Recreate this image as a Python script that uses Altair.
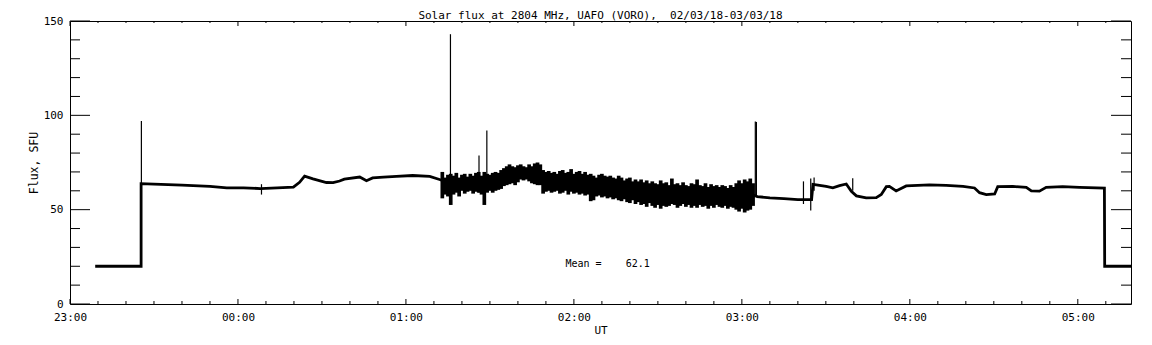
import altair as alt
import pandas as pd

# ---------------- data ----------------
TITLE = "Solar flux at 2804 MHz, UAFO (VORO),\u00a0\u00a002/03/18-03/03/18"
X_TITLE = "UT"
Y_TITLE = "Flux, SFU"
MEAN_TEXT = "Mean =\u00a0\u00a0\u00a0\u00a062.1"

# time axis in minutes after 23:00 UT
HOUR_LABELS = ["23:00", "00:00", "01:00", "02:00", "03:00", "04:00", "05:00"]
X_MAJOR = [0, 60, 120, 180, 240, 300, 360]
X_MINOR = [10, 20, 30, 40, 50, 70, 80, 90, 100, 110, 130, 140, 150, 160, 170,
           190, 200, 210, 220, 230, 250, 260, 270, 280, 290, 310, 320, 330,
           340, 350, 370]
X_MAX = 379
Y_MAJOR = [0, 50, 100, 150]
Y_MINOR = [10, 20, 30, 40, 60, 70, 80, 90, 110, 120, 130, 140]

# trend line of the flux (minutes after 23:00, SFU)
LINE_T = [9, 25.4, 25.4, 30, 40, 50, 56, 62, 68, 74, 79.8, 82, 83.8, 86.8, 91.6,
          94, 96.3, 98, 103.5, 105.9, 108.1, 112, 116.6, 122.4, 128.5, 132,
          136, 140, 146, 150, 156, 160, 164, 168, 172, 178, 185, 190, 195, 200,
          205, 210, 215, 220, 225, 230, 235, 240, 244.5,
          245.5, 250, 255, 260, 264.9, 265.4, 266.6, 270.1, 272.5, 274.9, 277.3,
          279.1, 280.9, 284.4, 288, 289.8, 291.6, 292.7, 295.1, 298.7, 307, 313,
          319, 323.1, 324.9, 327.3, 330.3, 331.4, 336.8, 341.6, 343.4, 346.3,
          348.7, 354.6, 360.6, 369.5, 369.6, 379]
LINE_V = [20, 20, 63.8, 63.5, 63, 62.3, 61.5, 61.6, 61.2, 61.5, 61.9, 64.5, 67.8,
          66.3, 64.4, 64.3, 65.2, 66.2, 67.3, 65.3, 66.8, 67.2, 67.6, 68.1, 67.6, 66,
          64, 64.5, 64.5, 65, 67.5, 69, 69.5, 68.5, 65, 65, 64, 62.5, 62, 61,
          59.5, 58.5, 58, 57.5, 57.5, 57, 56.5, 56.5, 57.5,
          56.9, 56.3, 55.8, 55.3, 55.3, 63.4, 63.2, 62.3, 61.6, 62.7, 63.6,
          59.7, 57.3, 56.3, 56.4, 58, 62.2, 62.3, 59.9, 62.6, 63.1, 62.9,
          62.3, 61.5, 59, 58, 58.3, 62.2, 62.3, 61.8, 60, 59.8,
          61.8, 62.2, 61.8, 61.4, 20, 20]

# noisy interval 01:13-03:04: low / high envelope per minute
NOISE_T = list(range(133, 245))
NOISE_HI = [70, 67, 68.5, 69, 68, 69.5, 67, 68.5, 69, 67.5,
            69, 68, 69.5, 70, 68, 70, 69, 68.5, 69.5, 70,
            69.5, 71, 72, 73, 74, 73, 72.5, 73.5, 74, 73,
            72.5, 74, 73, 74.5, 75, 74, 71, 70, 70.5, 69.5,
            70, 69, 70.5, 71, 69.5, 70, 71.5, 69, 70, 70.5,
            69, 70, 68.5, 69, 68, 67, 68.5, 69, 68, 67.5,
            68, 67, 66.5, 68, 67, 65.5, 66.5, 67, 65, 66,
            65, 66, 64.5, 65.5, 64, 65, 64, 63.5, 65.5, 64,
            64.5, 63, 66.5, 63.5, 64, 63, 64.5, 63, 62.5, 64,
            63.5, 66, 63, 62.5, 64, 62, 63.5, 62.5, 63, 62,
            63, 62.5, 61.5, 63, 62, 64, 65.5, 64, 66, 65,
            66.5, 64]
NOISE_LO = [56, 58, 57, 52.5, 58, 59, 57, 60, 58.5, 59.5,
            60, 58.5, 59.5, 59, 58, 52.5, 59, 60, 59, 60,
            60.5, 61, 62.5, 63, 63.5, 64, 63, 64.5, 66, 65.5,
            66, 65, 64, 63.5, 63, 63, 58.5, 59.5, 60, 59,
            59.5, 60, 58.5, 59, 60, 58, 59.5, 58.5, 59, 58,
            58.5, 57.5, 58, 54.5, 55, 57, 57.5, 56.5, 57, 56,
            56.5, 55.5, 56, 55, 54.5, 55.5, 54, 53.5, 55, 53,
            54, 52.5, 53, 51.5, 53.5, 52, 51, 52.5, 50.5, 52,
            51.5, 52, 53, 52.5, 51, 52, 53, 51.5, 52.5, 51,
            52, 51, 52.5, 51.5, 52, 50.5, 52, 51, 52.5, 51.5,
            51, 52, 50.5, 51.5, 51, 50, 49, 50.5, 48.5, 49.5,
            50, 52]

# isolated spikes (time, bottom, top)
SPIKE_T = [25.5, 68.4, 135.9, 146.1, 148.9, 244.8, 245.2, 262.0, 264.6, 265.8, 279.6]
SPIKE_LO = [63.8, 58, 52.7, 59, 61, 57, 57, 53, 49.5, 60, 60]
SPIKE_HI = [97, 63.5, 143, 78.7, 92, 96.7, 96.5, 65, 66.5, 67, 66.7]

MEAN_POS_T = 177
MEAN_POS_V = 21.3

# ---------------- chart ----------------
MONO = "DejaVu Sans Mono"
W, H = 1061, 283

xs = alt.Scale(domain=[0, X_MAX], nice=False, zero=False)
ys = alt.Scale(domain=[0, 150], nice=False, zero=False)

label_expr = "[" + ",".join("'%s'" % s for s in HOUR_LABELS) + "][round(datum.value/60)]"

x_axis = alt.Axis(values=X_MAJOR, labelExpr=label_expr, ticks=False, domain=False,
                  grid=False, labelPadding=7, labelFont=MONO, labelFontSize=11,
                  labelColor="black", labelFlush=False, labelOverlap=False,
                  title=X_TITLE, titleFont=MONO, titleFontSize=11,
                  titleFontWeight="normal", titleColor="black", titlePadding=2)
y_axis = alt.Axis(values=Y_MAJOR, ticks=False, domain=False, grid=False,
                  labelPadding=7, labelFont=MONO, labelFontSize=11,
                  labelColor="black", labelFlush=False, labelOverlap=False,
                  title=Y_TITLE, titleFont=MONO, titleFontSize=11.5,
                  titleFontWeight="normal", titleColor="black", titlePadding=4)


def X(field="t"):
    return alt.X(field + ":Q", scale=xs, axis=x_axis)


def Y(field="v"):
    return alt.Y(field + ":Q", scale=ys, axis=y_axis)


line_df = pd.DataFrame({"t": LINE_T, "v": LINE_V, "i": list(range(len(LINE_T)))})
line = alt.Chart(line_df).mark_line(color="black", strokeWidth=2.8).encode(
    x=X(), y=Y(), order="i:Q",
)

noise_df = pd.DataFrame({"t": NOISE_T, "v": NOISE_LO, "v2": NOISE_HI})
noise = alt.Chart(noise_df).mark_rule(color="black", strokeWidth=3.7).encode(
    x=X(), y=Y(), y2="v2:Q",
)

spike_df = pd.DataFrame({"t": SPIKE_T, "v": SPIKE_LO, "v2": SPIKE_HI})
spikes = alt.Chart(spike_df).mark_rule(color="black", strokeWidth=1.2).encode(
    x=X(), y=Y(), y2="v2:Q",
)


def ytick(vals, x0, x1):
    return alt.Chart(pd.DataFrame({"v": vals})).mark_rule(color="black", strokeWidth=1).encode(
        y=Y(), x=alt.value(x0), x2=alt.value(x1))


def xtick(vals, y0, y1):
    return alt.Chart(pd.DataFrame({"t": vals})).mark_rule(color="black", strokeWidth=1).encode(
        x=X(), y=alt.value(y0), y2=alt.value(y1))


ticks = [
    ytick(Y_MAJOR, 0, 20), ytick(Y_MINOR, 0, 10),
    ytick(Y_MAJOR, W - 20, W), ytick(Y_MINOR, W - 10, W),
    xtick(X_MAJOR, H - 5, H), xtick(X_MINOR, H - 3, H),
    xtick(X_MAJOR, 0, 5), xtick(X_MINOR, 0, 2),
]

mean_df = pd.DataFrame({"t": [MEAN_POS_T], "v": [MEAN_POS_V], "s": [MEAN_TEXT]})
mean = alt.Chart(mean_df).mark_text(align="left", baseline="middle", font=MONO,
                                    fontSize=10, color="black").encode(
    x=X(), y=Y(), text="s:N",
)

# chart title drawn as a text just above the frame
title_df = pd.DataFrame({"s": [TITLE]})
title = alt.Chart(title_df).mark_text(align="center", baseline="alphabetic", font=MONO,
                                      fontSize=11, color="black").encode(
    x=alt.value(W / 2), y=alt.value(-2), text="s:N",
)

chart = alt.layer(line, noise, spikes, *ticks, mean, title).properties(
    width=W, height=H,
    padding={"left": 62, "top": 13, "right": 12, "bottom": 36},
    autosize=alt.AutoSizeParams(type="none"),
).configure(background="white").configure_view(stroke="black", strokeWidth=1)

chart.save("out.html", embed_options={"renderer": "svg", "actions": False})
